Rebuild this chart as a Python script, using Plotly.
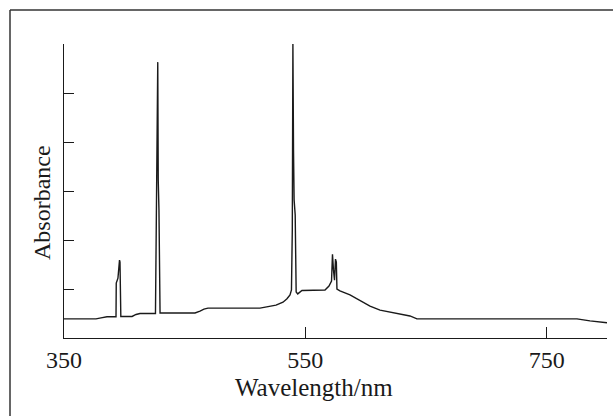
import plotly.graph_objects as go

# Spectrum (wavelength in nm, absorbance in tick units)
wavelength = [350.0, 376.5, 380.7, 385.6, 393.1, 393.3, 394.7, 396.0, 396.4, 397.1,
              406.4, 409.7, 413.0, 425.8, 426.7, 427.1, 427.5, 427.7, 428.1, 428.7,
              429.6, 458.6, 462.7, 466.0, 469.3, 512.4, 519.1, 525.7, 531.5, 534.8,
              537.3, 538.5, 539.2, 539.5, 539.7, 540.2, 540.7, 541.6, 542.4, 543.7,
              547.2, 566.3, 569.6, 571.7, 572.5, 573.3, 574.2, 575.0, 575.7, 576.2,
              578.7, 587.0, 595.3, 603.6, 611.9, 620.2, 628.4, 636.7, 642.5, 775.1,
              785.9, 800.0]
absorbance = [0.39, 0.39, 0.41, 0.435, 0.435, 1.12, 1.22, 1.59, 1.55, 0.44,
              0.44, 0.48, 0.50, 0.50, 2.61, 3.33, 5.63, 5.63, 3.22, 2.61,
              0.51, 0.51, 0.55, 0.59, 0.61, 0.61, 0.64, 0.67, 0.73, 0.80,
              0.88, 0.98, 2.20, 6.0, 6.0, 3.84, 2.82, 2.51, 0.94, 0.90,
              0.97, 0.98, 1.06, 1.16, 1.71, 1.39, 1.18, 1.61, 1.55, 1.00,
              0.96, 0.88, 0.77, 0.65, 0.57, 0.53, 0.50, 0.45, 0.39, 0.39,
              0.35, 0.31]

x_tickvals = [350, 550, 750]
x_ticktext = ["350", "550", "750"]
y_tickvals = [1, 2, 3, 4, 5, 6]

W, H = 613, 416
L, R, T, B = 64, 6, 44, 78
pw, ph = W - L - R, H - T - B

def px_x(p):
    return (p - L) / pw

def px_y(p):
    return (H - B - p) / ph

ink = "#1a1a1a"
serif = "Liberation Serif, Times New Roman, serif"

fig = go.Figure()
fig.add_trace(go.Scatter(x=wavelength, y=absorbance, mode="lines",
                         line=dict(color=ink, width=1.4), hoverinfo="skip",
                         showlegend=False))

fig.update_layout(
    width=W, height=H,
    margin=dict(l=L, r=R, t=T, b=B),
    paper_bgcolor="white", plot_bgcolor="white",
    xaxis=dict(range=[350, 800], tickvals=x_tickvals, ticktext=x_ticktext,
               ticks="inside", ticklen=11, tickwidth=1.2, tickcolor=ink,
               showline=True, linecolor=ink, linewidth=1.2, showgrid=False,
               zeroline=False, tickfont=dict(family=serif, size=24, color=ink),
               ticklabelstandoff=0, fixedrange=True),
    yaxis=dict(range=[0, 6], tickvals=y_tickvals, showticklabels=False,
               ticks="inside", ticklen=10, tickwidth=1.2, tickcolor=ink,
               showline=True, linecolor=ink, linewidth=1.2, showgrid=False,
               zeroline=False, fixedrange=True),
    annotations=[
        dict(text="Absorbance", xref="paper", yref="paper", x=px_x(42), y=px_y(203),
             textangle=-90, showarrow=False, xanchor="center", yanchor="middle",
             font=dict(family=serif, size=24, color=ink)),
        dict(text="Wavelength/nm", xref="paper", yref="paper", x=px_x(314), y=px_y(387),
             showarrow=False, xanchor="center", yanchor="middle",
             font=dict(family=serif, size=25, color=ink)),
    ],
    shapes=[
        dict(type="line", xref="paper", yref="paper", x0=px_x(10), y0=px_y(10),
             x1=px_x(640), y1=px_y(10), line=dict(color="#333", width=1.5)),
        dict(type="line", xref="paper", yref="paper", x0=px_x(10), y0=px_y(10),
             x1=px_x(10), y1=px_y(440), line=dict(color="#333", width=1.5)),
    ],
)

fig.write_html("out.html")
